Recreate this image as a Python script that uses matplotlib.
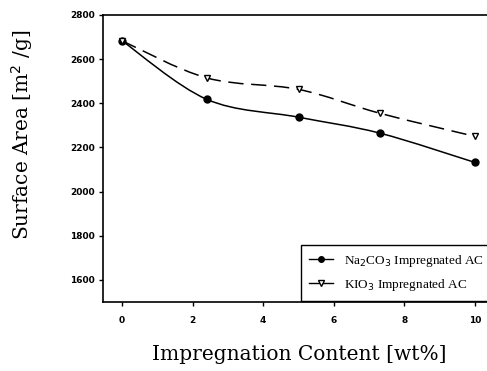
import matplotlib.pyplot as plt
from matplotlib.path import Path
from matplotlib.patches import PathPatch
from matplotlib.lines import Line2D

# data
content = [0, 2.4, 5.0, 7.3, 10.0]
na2co3 = [2683, 2418, 2337, 2265, 2132]
kio3 = [2683, 2515, 2463, 2355, 2250]

xticks = [0, 2, 4, 6, 8, 10]
yticks = [1600, 1800, 2000, 2200, 2400, 2600, 2800]


def smooth_path(xs, ys):
    # Catmull-Rom through the points, drawn as cubic Bezier segments
    verts = [(xs[0], ys[0])]
    codes = [Path.MOVETO]
    n = len(xs)
    for i in range(n - 1):
        x0, y0 = (xs[i - 1], ys[i - 1]) if i > 0 else (xs[i], ys[i])
        x1, y1 = xs[i], ys[i]
        x2, y2 = xs[i + 1], ys[i + 1]
        x3, y3 = (xs[i + 2], ys[i + 2]) if i + 2 < n else (x2, y2)
        c1 = (x1 + (x2 - x0) / 6, y1 + (y2 - y0) / 6)
        c2 = (x2 - (x3 - x1) / 6, y2 - (y3 - y1) / 6)
        verts += [c1, c2, (x2, y2)]
        codes += [Path.CURVE4] * 3
    return Path(verts, codes)


fig = plt.figure(figsize=(4.87, 3.71), dpi=100)
ax = fig.add_axes([0.2115, 0.186, 0.7885, 0.7736])

ax.add_patch(PathPatch(smooth_path(content, na2co3), fill=False,
                       edgecolor='black', linewidth=1.1))
ax.add_patch(PathPatch(smooth_path(content, kio3), fill=False,
                       edgecolor='black', linewidth=1.1, linestyle=(0, (10, 5))))
ax.plot(content, na2co3, 'o', color='black', markersize=5, zorder=3)
ax.plot(content, kio3, 'v', color='black', markerfacecolor='white',
        markersize=5, markeredgewidth=1, zorder=4)

ax.set_xlim(-0.54, 10.34)
ax.set_ylim(1500, 2800)
ax.set_xticks(xticks)
ax.set_yticks(yticks)
ax.tick_params(direction='out', length=3, width=1, labelsize=6.5, pad=3)
for lab in ax.get_xticklabels() + ax.get_yticklabels():
    lab.set_fontweight('bold')
ax.xaxis.set_tick_params(pad=7)
ax.spines['right'].set_visible(False)
for s in ['left', 'bottom', 'top']:
    ax.spines[s].set_linewidth(1.2)

fig.text(0.045, 0.636, 'Surface Area [m$^2$ /g]', family='DejaVu Serif',
         fontsize=14.5, rotation=90, ha='center', va='center')
fig.text(0.615, 0.02, 'Impregnation Content [wt%]', family='DejaVu Serif',
         fontsize=14.5, ha='center', va='bottom')

handles = [
    Line2D([], [], color='black', marker='o', markersize=4, linewidth=1),
    Line2D([], [], color='black', marker='v', markersize=4, markerfacecolor='white',
           linewidth=1),
]
leg = ax.legend(handles, ['Na$_2$CO$_3$ Impregnated AC', 'KIO$_3$ Impregnated AC'],
                loc='lower right', bbox_to_anchor=(1.015, 0.0), fancybox=False,
                edgecolor='black', framealpha=1, handlelength=1.8,
                prop={'family': 'Liberation Serif', 'size': 9.5},
                borderaxespad=0.1, labelspacing=0.6, borderpad=0.6)
leg.get_frame().set_linewidth(1)

fig.savefig('out.png', dpi=100)
